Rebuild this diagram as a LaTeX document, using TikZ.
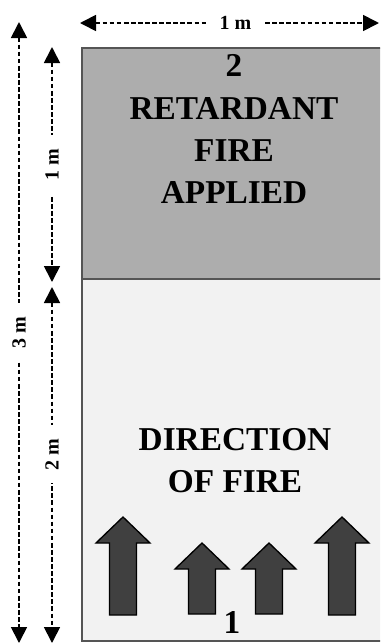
\documentclass[tikz,border=0pt]{standalone}
\usepackage{fontspec}
\setmainfont{Liberation Serif}
\usepackage{tikz}
\usetikzlibrary{arrows.meta}
\definecolor{retardgray}{HTML}{ADADAD}
\definecolor{plotgray}{HTML}{F2F2F2}
\definecolor{arrowgray}{HTML}{404040}
\definecolor{edgegray}{HTML}{555555}
\def\firearrow(#1:#2:#3)% Syntax: (centre x:top y:bottom y)
    { \draw[firearrow] ({#1-13.5},#3) -- ({#1-13.5},{#2+26}) -- ({#1-27},{#2+26}) -- (#1,#2)
        -- ({#1+27},{#2+26}) -- ({#1+13.5},{#2+26}) -- ({#1+13.5},#3) -- cycle; }
\begin{document}
\begin{tikzpicture}[x=0.75pt,y=-0.75pt,
    dimline/.style={line width=1.3pt, dash pattern=on 3.5pt off 1.8pt,
        {Triangle[width=12pt,length=12pt]}-{Triangle[width=12pt,length=12pt]}},
    bigtext/.style={font=\fontsize{25}{31.5}\selectfont\bfseries, align=center, inner sep=0pt},
    smalltext/.style={font=\fontsize{15}{17}\selectfont\bfseries, fill=white, inner ysep=3pt, inner xsep=10pt},
    firearrow/.style={fill=arrowgray, draw=black, line width=1pt}]
   \useasboundingbox (0,0) rectangle (380,643);
   \clip (0,0) rectangle (380,643);

   % plot
   \fill[retardgray] (82,48) rectangle (386,279);
   \fill[plotgray] (82,279) rectangle (386,641);
   \draw[edgegray, line width=1.5pt] (386,48) -| (82,641) -- (386,641);
   \draw[edgegray, line width=1.2pt] (82,279) -- (386,279);

   % dimensions
   \coordinate (wL) at (80,23);
   \coordinate (wR) at (379,23);
   \coordinate (hTop) at (19,22);
   \coordinate (hBot) at (19,643);
   \coordinate (aTop) at (52,47);
   \coordinate (aBot) at (52,282);
   \coordinate (bTop) at (52,287);
   \coordinate (bBot) at (52,643);
   \draw[dimline] (wL) -- node[smalltext, pos=0.52] (wlab) {1 m} (wR);
   \draw[dimline] (hTop) -- node[smalltext, rotate=90] (hlab) {3 m} (hBot);
   \draw[dimline] (aTop) -- node[smalltext, rotate=90] (alab) {1 m} (aBot);
   \draw[dimline] (bTop) -- node[smalltext, rotate=90, pos=0.47] (blab) {2 m} (bBot);

   % texts (base = last line)
   \node[bigtext, anchor=base] (two) at (234,76) {2};
   \node[bigtext, anchor=base] (retard) at (234,203) {RETARDANT\\FIRE\\APPLIED};
   \node[bigtext, anchor=base] (dirfire) at (235,492) {DIRECTION\\OF FIRE};
   \node[bigtext, anchor=base] (one) at (232,633) {1};

   % fire arrows
   \firearrow(123:517:615)
   \firearrow(202:543:614)
   \firearrow(269:543:614)
   \firearrow(342:517:615)
\end{tikzpicture}
\end{document}
